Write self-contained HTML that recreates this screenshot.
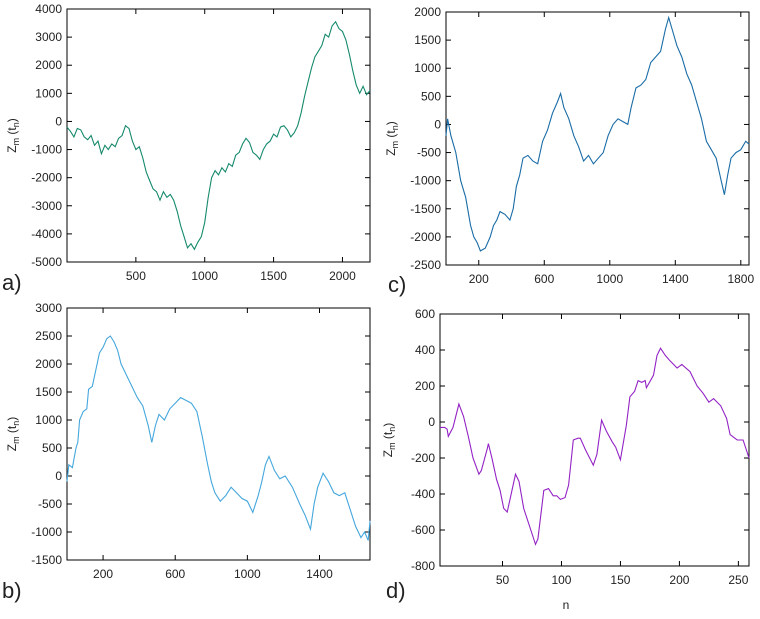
<!DOCTYPE html>
<html><head><meta charset="utf-8"><style>
body{margin:0;background:#fff;width:760px;height:614px;overflow:hidden;font-family:"Liberation Sans",sans-serif}
svg text{font-family:"Liberation Sans",sans-serif;fill:#222}
</style></head><body>
<svg id="fig" width="760" height="614" xmlns="http://www.w3.org/2000/svg"></svg>
<script>
// Panel a
const aX=[0,25,50,75,100,125,150,175,200,225,250,275,300,325,350,375,400,425,450,475,500,525,550,575,600,625,650,675,700,725,750,775,800,825,850,875,900,925,950,975,1000,1025,1050,1075,1100,1125,1150,1175,1200,1225,1250,1275,1300,1325,1350,1375,1400,1425,1450,1475,1500,1525,1550,1575,1600,1625,1650,1675,1700,1725,1750,1775,1800,1825,1850,1875,1900,1925,1950,1975,2000,2025,2050,2075,2100,2125,2150,2175,2200];
const aY=[-200,-350,-550,-250,-300,-550,-650,-500,-850,-700,-1150,-850,-1000,-800,-900,-600,-500,-150,-250,-700,-1000,-900,-1300,-1800,-2100,-2400,-2500,-2800,-2500,-2700,-2600,-2800,-3200,-3700,-4100,-4500,-4350,-4550,-4300,-4100,-3600,-2700,-2000,-1750,-1900,-1650,-1800,-1500,-1600,-1200,-1100,-800,-600,-750,-1100,-1200,-1350,-1000,-800,-700,-450,-550,-200,-150,-300,-550,-400,-150,300,900,1400,1900,2300,2500,2700,3100,3000,3400,3550,3300,3200,2900,2400,1800,1300,1000,1250,950,1100];
// Panel b
const bX=[0,10,30,50,60,70,90,110,120,140,160,180,200,220,240,260,280,300,330,360,390,420,450,470,490,510,540,570,600,630,660,690,720,750,780,800,820,850,880,910,940,970,1000,1030,1060,1080,1100,1120,1150,1180,1210,1250,1290,1320,1350,1370,1390,1420,1450,1480,1510,1540,1570,1600,1630,1650,1670,1680];
const bY=[-100,200,150,500,600,1000,1150,1200,1550,1600,1900,2200,2300,2450,2500,2400,2250,2000,1800,1600,1400,1250,900,600,900,1100,1000,1200,1300,1400,1350,1300,1150,700,200,-100,-300,-450,-350,-200,-300,-400,-450,-650,-350,-100,200,350,100,-50,0,-200,-500,-700,-950,-500,-200,50,-100,-300,-350,-300,-600,-900,-1100,-1000,-1150,-800];
// Panel c
const cX=[0,10,30,60,90,120,150,170,190,210,240,270,290,310,330,360,390,410,430,450,470,500,530,560,590,620,650,680,700,720,750,780,810,840,870,900,930,960,990,1020,1050,1080,1110,1130,1160,1190,1220,1250,1280,1310,1340,1360,1380,1410,1440,1470,1500,1530,1560,1590,1620,1650,1680,1700,1720,1740,1770,1800,1830,1850];
const cY=[-200,100,-200,-500,-1000,-1300,-1800,-2000,-2100,-2250,-2200,-2000,-1800,-1700,-1550,-1600,-1700,-1500,-1100,-900,-600,-550,-650,-700,-300,-100,200,400,550,300,100,-200,-400,-650,-550,-700,-600,-500,-200,0,100,50,0,300,650,700,800,1100,1200,1300,1700,1900,1700,1400,1200,900,700,400,100,-300,-450,-600,-1000,-1250,-900,-600,-500,-450,-300,-350];
// Panel d
const dX=[-3,1,3,4,8,13,17,21,25,30,32,37,38,41,45,48,51,54,56,61,64,68,74,78,80,85,89,93,96,99,103,106,110,114,116,120,127,130,134,138,143,146,150,155,158,162,165,168,171,172,178,181,184,188,192,198,202,209,215,220,225,229,235,240,243,249,254,259];
const dY=[-30,-30,-40,-80,-30,100,30,-80,-200,-290,-270,-150,-120,-200,-320,-380,-480,-500,-440,-290,-330,-480,-600,-680,-650,-380,-370,-410,-410,-430,-420,-350,-100,-90,-90,-150,-240,-180,10,-50,-110,-140,-210,-20,140,170,230,220,230,190,260,370,410,370,340,300,320,280,200,160,110,130,90,20,-70,-100,-100,-200];

const aXTicks=[500,1000,1500,2000], aYTicks=[-5000,-4000,-3000,-2000,-1000,0,1000,2000,3000,4000];
const bXTicks=[200,600,1000,1400], bYTicks=[-1500,-1000,-500,0,500,1000,1500,2000,2500,3000];
const cXTicks=[200,600,1000,1400,1800], cYTicks=[-2500,-2000,-1500,-1000,-500,0,500,1000,1500,2000];
const dXTicks=[50,100,150,200,250], dYTicks=[-800,-600,-400,-200,0,200,400,600];

const NS="http://www.w3.org/2000/svg";
const svg=document.getElementById('fig');
function mk(tag,attrs,parent){const e=document.createElementNS(NS,tag);for(const k in attrs)e.setAttribute(k,attrs[k]);(parent||svg).appendChild(e);return e;}

function panel(id,L,R,T,B,xd,yd,xs,ys,xt,yt,color,letter,lx,ly,tx){
  const g=mk('g',{});
  
  
  const sx=v=>L+(v-xd[0])/(xd[1]-xd[0])*(R-L);
  const sy=v=>B-(v-yd[0])/(yd[1]-yd[0])*(B-T);
  const fr=mk('rect',{x:L,y:T,width:R-L,height:B-T,fill:'none',stroke:'#000','stroke-width':1},g);
  
  
  yt.forEach(v=>{const y=sy(v);
    mk('line',{x1:L,x2:L+5,y1:y,y2:y,stroke:'#000'},g);
    mk('line',{x1:R,x2:R-5,y1:y,y2:y,stroke:'#000'},g);
    const t=mk('text',{x:L-5,y:y+4,'font-size':12,'text-anchor':'end'},g);t.textContent=v;
    
    
  });
  xt.forEach(v=>{const x=sx(v);
    mk('line',{x1:x,x2:x,y1:B,y2:B-5,stroke:'#000'},g);
    mk('line',{x1:x,x2:x,y1:T,y2:T+5,stroke:'#000'},g);
    const t=mk('text',{x:x,y:B+18,'font-size':12,'text-anchor':'middle'},g);t.textContent=v;
    
    
  });
  const pts=xs.map((x,i)=>sx(x).toFixed(1)+','+sy(ys[i]).toFixed(1)).join(' ');
  const pl=mk('polyline',{points:pts,fill:'none',stroke:color,'stroke-width':1.1},g);
  
  
  const yl=mk('text',{transform:`translate(${tx},${(T+B)/2}) rotate(-90)`,'font-size':12,'text-anchor':'middle'},g);
  yl.innerHTML='Z<tspan font-size="9" dy="3">m</tspan><tspan dy="-3"> (t</tspan><tspan font-size="9" dy="3">n</tspan><tspan dy="-3">)</tspan>';
  
  
  const pl2=mk('text',{x:lx,y:ly,'font-size':22},g);pl2.textContent=letter+')';
  
  
}
panel('a',67,370,9,262,[0,2200],[-5000,4000],aX,aY,aXTicks,aYTicks,'#15896c','a',2,290,16);
panel('b',67,370,308,560,[0,1680],[-1500,3000],bX,bY,bXTicks,bYTicks,'#45a7dc','b',2,598,16);
panel('c',446,749,12,265,[0,1850],[-2500,2000],cX,cY,cXTicks,cYTicks,'#1a6ca6','c',388,292,395);
panel('d',440,749,314,566,[-3,259],[-800,600],dX,dY,dXTicks,dYTicks,'#9322c4','d',386,598,392);
const n=mk('text',{x:566,y:609,'font-size':12,'text-anchor':'middle'});n.textContent='n';


</script>
</body></html>
